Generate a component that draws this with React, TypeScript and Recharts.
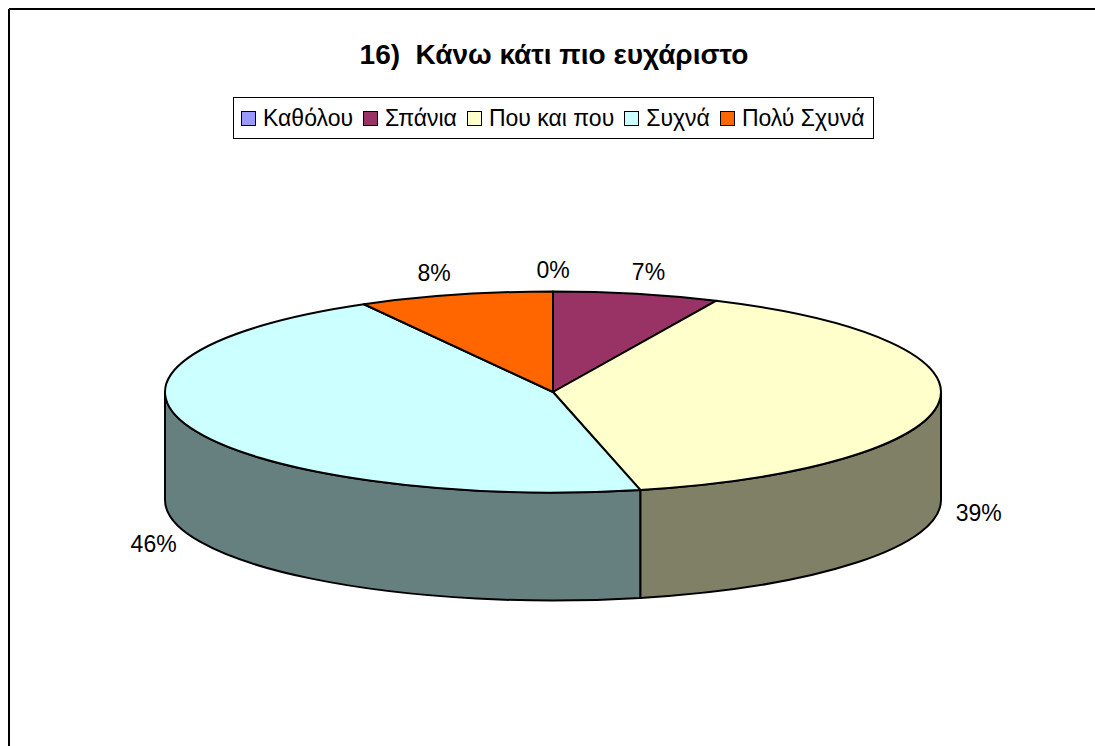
import React from 'react';
import { PieChart, Pie, Cell, Legend } from 'recharts';

const categories = ['Καθόλου', 'Σπάνια', 'Που και που', 'Συχνά', 'Πολύ Σχυνά'];
const shares = [0, 6.9, 39.49, 45.51, 8.1];
const topColors = ['#9999FF', '#993366', '#FFFFCC', '#CCFFFF', '#FF6600'];
const wallColors = ['#4D4D80', '#4D1A33', '#808066', '#668080', '#803300'];
const chartTitle = '16)  Κάνω κάτι πιο ευχάριστο';

const tableData = categories.map((name, i) => ({ name, value: shares[i] }));

const FONT = '"Liberation Sans", Arial, sans-serif';
const SQUASH = 0.259; // pie is drawn as an ellipse, rx 388 -> ry ~100
const DEPTH = 108;

const toPoint = (cx: number, cy: number, r: number, clockDeg: number) => {
    const rad = (clockDeg * Math.PI) / 180;
    return [cx + r * Math.sin(rad), cy - r * SQUASH * Math.cos(rad)];
};

// Flat top of a slice
const TopSlice = (props: any) => {
    const { cx, cy, outerRadius: r, startAngle, endAngle, fill } = props;
    const from = 90 - startAngle;
    const to = 90 - endAngle;
    if (to - from <= 0) return <g />;
    const [x1, y1] = toPoint(cx, cy, r, from);
    const [x2, y2] = toPoint(cx, cy, r, to);
    const large = to - from > 180 ? 1 : 0;
    const d = `M${cx},${cy}L${x1},${y1}A${r},${r * SQUASH} 0 ${large} 1 ${x2},${y2}Z`;
    return <path d={d} fill={fill} stroke="#000" strokeWidth={2} strokeLinejoin="round" />;
};

// Front wall, only the part of a slice in the lower half shows
const WallSlice = (props: any) => {
    const { cx, cy, outerRadius: r, startAngle, endAngle, fill } = props;
    const from = Math.max(90 - startAngle, 90);
    const to = Math.min(90 - endAngle, 270);
    if (to <= from) return <g />;
    const [x1, y1] = toPoint(cx, cy, r, from);
    const [x2, y2] = toPoint(cx, cy, r, to);
    const ry = r * SQUASH;
    const d = `M${x1},${y1}A${r},${ry} 0 0 1 ${x2},${y2}L${x2},${y2 + DEPTH}A${r},${ry} 0 0 0 ${x1},${y1 + DEPTH}Z`;
    return <path d={d} fill={fill} stroke="#000" strokeWidth={2} strokeLinejoin="round" />;
};

const renderLabel = (props: any) => {
    const { cx, cy, outerRadius: r, midAngle, percent } = props;
    const clock = 90 - midAngle;
    const rad = (clock * Math.PI) / 180;
    const sin = Math.sin(rad);
    const cos = Math.cos(rad);
    // labels above the pie sit a little left of the radial line
    const x = cos > 0 ? cx + (r + 70) * sin - 14 * Math.abs(sin) : cx + (r + 40) * sin;
    const y = cy - (r * SQUASH + 22) * cos + (cos < 0 ? DEPTH : 0);
    return (
        <text x={x} y={y} textAnchor="middle" dominantBaseline="central" fontFamily={FONT} fontSize={23} fill="#000">
            {`${Math.round(percent * 100)}%`}
        </text>
    );
};

const renderLegend = () => (
    <div
        style={{
            display: 'flex',
            alignItems: 'center',
            height: 42,
            boxSizing: 'border-box',
            border: '1px solid #000',
            paddingLeft: 7,
            fontFamily: FONT,
            fontSize: 23,
            color: '#000',
            whiteSpace: 'nowrap',
        }}
    >
        {categories.map((name, i) => (
            <span key={name} style={{ display: 'flex', alignItems: 'center', marginRight: 10 }}>
                <span
                    style={{
                        width: 13,
                        height: 13,
                        background: topColors[i],
                        border: '1.5px solid #000',
                        marginRight: 7,
                    }}
                />
                {name}
            </span>
        ))}
    </div>
);

export default function App() {
    return (
        <div style={{ position: 'absolute', left: 0, top: 0, width: 1095, height: 746, overflow: 'hidden', background: '#fff' }}>
            <PieChart width={1095} height={746} margin={{ top: 0, right: 0, bottom: 0, left: 0 }}>
                <line x1={9} y1={9} x2={1095} y2={9} stroke="#000" strokeWidth={2} />
                <line x1={9} y1={9} x2={9} y2={746} stroke="#000" strokeWidth={2} />
                <text x={554} y={54} textAnchor="middle" dominantBaseline="central" fontFamily={FONT} fontSize={28} fontWeight="bold" fill="#000" style={{ whiteSpace: 'pre' }}>
                    {chartTitle}
                </text>
                <Pie
                    data={tableData}
                    dataKey="value"
                    nameKey="name"
                    cx={553}
                    cy={392}
                    outerRadius={388}
                    startAngle={90}
                    endAngle={-270}
                    stroke="none"
                    legendType="none"
                    shape={WallSlice}
                    label={renderLabel}
                    labelLine={false}
                    isAnimationActive={false}
                >
                    {wallColors.map((c, i) => <Cell key={i} fill={c} />)}
                </Pie>
                <Pie
                    data={tableData}
                    dataKey="value"
                    nameKey="name"
                    cx={553}
                    cy={392}
                    outerRadius={388}
                    startAngle={90}
                    endAngle={-270}
                    stroke="none"
                    shape={TopSlice}
                    isAnimationActive={false}
                >
                    {topColors.map((c, i) => <Cell key={i} fill={c} />)}
                </Pie>
                <Legend
                    content={renderLegend}
                    wrapperStyle={{ position: 'absolute', left: 233, top: 97, width: 641, height: 42 }}
                />
            </PieChart>
        </div>
    );
}
